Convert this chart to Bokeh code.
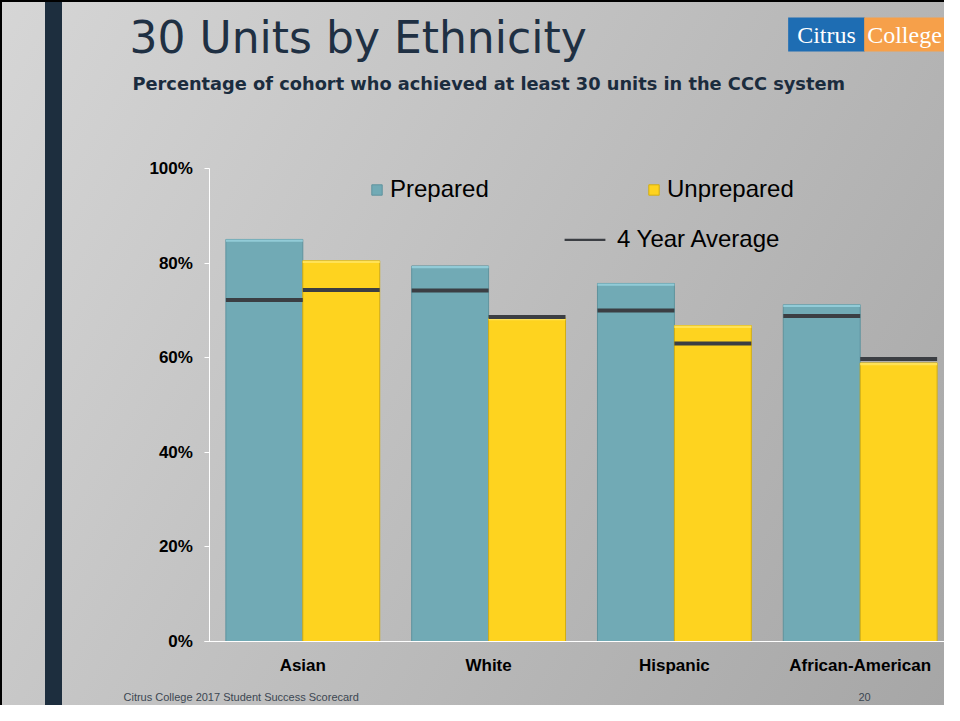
from bokeh.plotting import figure
from bokeh.models import (Range1d, Label, Legend, LegendItem, FixedTicker,
                          PrintfTickFormatter, CustomJSTickFormatter, ColumnDataSource)
from bokeh.transform import dodge
from bokeh.embed import file_html
from bokeh.resources import INLINE

# ---- data ----
categories = ["Asian", "White", "Hispanic", "African-American"]
prepared = [85.0, 79.4, 75.7, 71.2]
unprepared = [80.5, 68.4, 66.8, 58.9]
prepared_avg = [72.2, 74.2, 70.0, 68.8]
unprepared_avg = [74.3, 68.6, 63.0, 59.7]
y_ticks = [0, 20, 40, 60, 80, 100]

TITLE = "30 Units by Ethnicity"
SUBTITLE = "Percentage of cohort who achieved at least 30 units in the CCC system"
FOOTER = "Citrus College 2017 Student Success Scorecard"
PAGE = "20"

# ---- styles ----
TEAL = "#71aab5"
TEAL_EDGE = "#5f939d"
TEAL_HI = "#92cbd7"
YELLOW = "#fed31f"
YELLOW_EDGE = "#d2ad12"
YELLOW_HI = "#ffe257"
AVG = "#3b3e43"
NAVY = "#1f3043"
FONT = "Liberation Sans"

W, H = 944, 705
# layout geometry (pixels on the canvas)
Y0_PX, Y100_PX = 641, 168          # where 0% and 100% sit
X_FIRST_PX, X_STEP_PX = 302.3, 185.8  # centre of first category, category spacing
ppu_y = (Y0_PX - Y100_PX) / 100.0
y_start = -(H - Y0_PX) / ppu_y
y_end = 100 + Y100_PX / ppu_y
x_start = -X_FIRST_PX / X_STEP_PX
x_end = x_start + W / X_STEP_PX

p = figure(width=W, height=H,
           x_range=Range1d(x_start, x_end), y_range=Range1d(y_start, y_end),
           output_backend="svg", toolbar_location=None,
           min_border_left=0, min_border_right=0, min_border_top=0, min_border_bottom=0)
p.styles = {"background": "linear-gradient(to right, #000 2px, rgba(0,0,0,0) 2px), "
                          "linear-gradient(to bottom, #000 2px, rgba(0,0,0,0) 2px), "
                          "linear-gradient(to right, rgba(0,0,0,0) 45px, #1d2e3e 45px, #1d2e3e 62px, rgba(0,0,0,0) 62px), "
                          "linear-gradient(120deg, #d6d6d6 0%, #a6a6a6 100%)"}
p.border_fill_color = None
p.background_fill_color = None
p.outline_line_color = None
p.grid.visible = False

hi = 0.5
xi = list(range(len(categories)))
src = ColumnDataSource(dict(xi=xi, cat=categories, prep=prepared, unprep=unprepared,
                            prep_hi=[v - hi for v in prepared],
                            unprep_hi=[v - hi for v in unprepared],
                            pavg=prepared_avg, uavg=unprepared_avg))
off, bw = 0.207, 0.414
xp = dodge("xi", -off)
xu = dodge("xi", off)

r_prep = p.vbar(x=xp, top="prep", width=bw, source=src, fill_color=TEAL, line_color=TEAL_EDGE, line_width=1)
p.vbar(x=xp, top="prep", bottom="prep_hi", width=bw, source=src, fill_color=TEAL_HI, line_color=None)
r_unprep = p.vbar(x=xu, top="unprep", width=bw, source=src, fill_color=YELLOW, line_color=YELLOW_EDGE, line_width=1)
p.vbar(x=xu, top="unprep", bottom="unprep_hi", width=bw, source=src, fill_color=YELLOW_HI, line_color=None)

r_avg = p.rect(x=xp, y="pavg", width=bw, height=4, height_units="screen", source=src,
               fill_color=AVG, line_color=None)
p.rect(x=xu, y="uavg", width=bw, height=4, height_units="screen", source=src,
       fill_color=AVG, line_color=None)

# ---- axes (drawn at fixed locations inside the full-canvas frame) ----
yax, xax = p.yaxis[0], p.xaxis[0]
yax.fixed_location = -0.5
yax.bounds = (0, 100)
yax.ticker = FixedTicker(ticks=y_ticks)
yax.formatter = PrintfTickFormatter(format="%d%%")
xax.fixed_location = 0
xax.bounds = (-0.53, 3.6)
xax.ticker = FixedTicker(ticks=xi)
xax.formatter = CustomJSTickFormatter(args=dict(cats=categories),
                                      code="const i = Math.round(tick); return (i >= 0 && i < cats.length) ? cats[i] : '';")
for ax in (xax, yax):
    ax.axis_line_color = "white"
    ax.axis_line_width = 1
    ax.major_tick_line_color = "white"
    ax.minor_tick_line_color = None
    ax.major_label_text_font = FONT
    ax.major_label_text_font_style = "bold"
    ax.major_label_text_font_size = "17px"
    ax.major_label_text_color = "black"
yax.major_tick_out = 5
yax.major_tick_in = 0
yax.major_label_standoff = 12
xax.major_tick_out = 0
xax.major_tick_in = 0
xax.major_label_standoff = 14


# ---- legends ----
def mk_legend(item, x, top, gw, gh, h=27):
    lg = Legend(items=[item], location=(x, H - top - h), orientation="horizontal",
                glyph_width=gw, glyph_height=gh, label_standoff=7,
                padding=0, margin=0, spacing=0,
                background_fill_alpha=0, border_line_color=None,
                label_text_font=FONT, label_text_font_size="24px", label_text_color="black")
    p.add_layout(lg)


mk_legend(LegendItem(label="Prepared", renderers=[r_prep]), 370, 176, 13, 13)
mk_legend(LegendItem(label="Unprepared", renderers=[r_unprep]), 647, 176, 13, 13)
mk_legend(LegendItem(label="4 Year Average", renderers=[r_avg]), 559, 226, 51, 3)


# ---- texts (screen units, frame == canvas) ----
def lab(text, x, y, size, color, style="normal", font=FONT, align="left", baseline="alphabetic", **kw):
    p.add_layout(Label(x=x, y=H - y, x_units="screen", y_units="screen", text=text,
                       text_font=font, text_font_size=size, text_color=color, text_font_style=style,
                       text_align=align, text_baseline=baseline, **kw))


lab(TITLE, 129, 37, "44px", NAVY, font="DejaVu Sans")
lab(SUBTITLE, 132, 83, "17.8px", "#1b2c3e", style="bold", font="DejaVu Sans")
lab(FOOTER, 123, 696, "11px", "#3c4752")
lab(PAGE, 858, 696, "11px", "#3c4752")
lab("Citrus", 826, 34, "24px", "white", font="Liberation Serif", align="center", baseline="middle",
    background_fill_color="#1e6db3", padding=(9, 4))
lab("College", 904, 34, "24px", "white", font="Liberation Serif", align="center", baseline="middle",
    background_fill_color="#f6a04a", padding=(3, 4))

open("out.html", "w").write(file_html(p, INLINE, title=TITLE))
